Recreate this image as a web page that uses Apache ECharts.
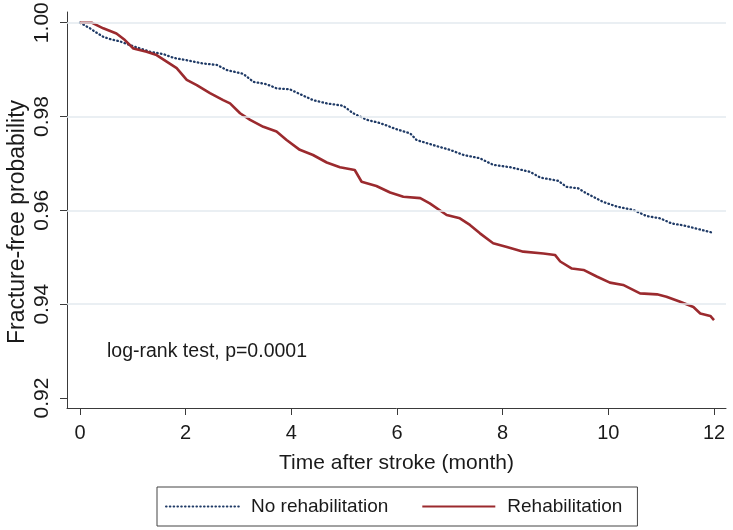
<!DOCTYPE html>
<html>
<head>
<meta charset="utf-8">
<script src="https://cdn.jsdelivr.net/npm/echarts@6/dist/echarts.min.js"></script>
<style>
html,body{margin:0;padding:0;background:#fff;}
#chart{width:733px;height:530px;}
</style>
</head>
<body>
<div id="chart"></div>
<script>
// ---- data ----
const noRehabTime = [0,0.19,0.28,0.44,0.57,0.76,0.95,1.14,1.33,1.58,1.77,2.02,2.33,2.59,2.78,3.09,3.28,3.53,3.72,3.97,4.16,4.41,4.67,4.98,5.17,5.43,5.68,5.99,6.25,6.37,6.69,7.00,7.26,7.57,7.82,8.14,8.52,8.71,9.05,9.21,9.43,9.59,9.90,10.16,10.47,10.72,10.98,11.20,11.42,11.67,11.99];
const noRehabSurv = [1.000,0.9988,0.9981,0.9970,0.9965,0.9960,0.9952,0.9945,0.9938,0.9933,0.9925,0.9920,0.9913,0.9910,0.9899,0.9891,0.9874,0.9869,0.9860,0.9858,0.9848,0.9835,0.9828,0.9823,0.9807,0.9793,0.9786,0.9773,0.9764,0.9750,0.9739,0.9729,0.9718,0.9711,0.9697,0.9692,0.9682,0.9670,0.9663,0.9650,0.9647,0.9636,0.9618,0.9608,0.9601,0.9588,0.9583,0.9572,0.9568,0.9561,0.9552];
const rehabTime = [0,0.22,0.44,0.69,0.85,1.01,1.26,1.45,1.64,1.83,2.02,2.21,2.46,2.71,2.84,3.03,3.22,3.47,3.72,3.91,4.16,4.41,4.67,4.92,5.20,5.33,5.61,5.87,6.12,6.44,6.62,6.94,7.19,7.38,7.57,7.82,8.08,8.39,8.77,8.99,9.09,9.31,9.53,9.78,10.03,10.28,10.60,10.92,11.10,11.36,11.61,11.74,11.93,12.00];
const rehabSurv = [1.000,1.000,0.9988,0.9977,0.9963,0.9945,0.9938,0.9931,0.9917,0.9903,0.9878,0.9867,0.9850,0.9835,0.9828,0.9807,0.9793,0.9778,0.9768,0.9750,0.9729,0.9718,0.9702,0.9692,0.9686,0.9661,0.9652,0.9638,0.9629,0.9626,0.9615,0.9590,0.9583,0.9569,0.9551,0.9530,0.9522,0.9512,0.9508,0.9505,0.9491,0.9476,0.9473,0.9459,0.9446,0.9441,0.9423,0.9421,0.9416,0.9405,0.9394,0.9380,0.9375,0.9366];
const xTicks = [0,2,4,6,8,10,12];
const yTicks = [0.92,0.94,0.96,0.98,1.00];
const yGrid = [0.94,0.96,0.98,1.00];
const seriesNames = ['No rehabilitation','Rehabilitation'];
const xTitle = 'Time after stroke (month)';
const yTitle = 'Fracture-free probability';
const note = 'log-rank test, p=0.0001';

const zip = (a,b) => a.map((v,i)=>[v,b[i]]);
const FONT = '"Liberation Sans", Arial, sans-serif';
const AX = '#3a3a3a';
const TXT = '#1a1a1a';

const chart = echarts.init(document.getElementById('chart'), null, {renderer:'canvas'});
chart.setOption({
  animation:false,
  backgroundColor:'#fff',
  textStyle:{fontFamily:FONT},
  title:{
    text:note, left:107, top:342, padding:0,
    textStyle:{fontSize:19.5, fontWeight:'normal', color:TXT, fontFamily:FONT}
  },
  grid:{left:67, right:7, top:12, bottom:122, containLabel:false, outerBoundsMode:'none'},
  legend:{
    data:seriesNames,
    left:157, top:487,
    padding:[10,15,10,8],
    borderColor:'#444', borderWidth:1,
    itemWidth:73, itemHeight:14, itemGap:33,
    itemStyle:{opacity:0},
    textStyle:{fontSize:19, color:TXT, fontFamily:FONT, padding:[0,0,0,7]}
  },
  xAxis:{
    type:'value', min:-0.246, max:12.227,
    axisLine:{show:true, onZero:false, lineStyle:{color:AX, width:1}},
    axisTick:{show:true, length:7, customValues:xTicks, lineStyle:{color:AX}},
    axisLabel:{customValues:xTicks, margin:15, fontSize:20, color:TXT, fontFamily:FONT},
    splitLine:{show:false},
    name:xTitle, nameLocation:'middle', nameGap:45, nameMoveOverlap:false,
    nameTextStyle:{fontSize:21, color:TXT, fontFamily:FONT}
  },
  yAxis:{
    type:'value', min:0.91787, max:1.00228,
    axisLine:{show:true, onZero:false, lineStyle:{color:AX, width:1}},
    axisTick:{show:true, length:7, customValues:yTicks, lineStyle:{color:AX}},
    axisLabel:{customValues:yTicks, rotate:90, margin:14, fontSize:21, color:TXT, fontFamily:FONT,
      formatter:v=>v.toFixed(2)},
    splitLine:{show:false},
    name:yTitle, nameLocation:'middle', nameGap:38, nameMoveOverlap:false,
    nameTextStyle:{fontSize:23, color:TXT, fontFamily:FONT, padding:[0,24,0,0]}
  },
  series:[
    {
      name:'grid', type:'line', data:[], z:1, silent:true,
      markLine:{
        silent:true, symbol:'none', animation:false,
        label:{show:false},
        lineStyle:{color:'#e3eaef', width:1.5, type:'solid'},
        data:yGrid.map(v=>({yAxis:v}))
      }
    },
    {
      name:seriesNames[0], type:'line', data:zip(noRehabTime,noRehabSurv),
      symbol:'none', z:3,
      lineStyle:{color:'#1f3a66', width:2.3, type:[0.6,3.2], cap:'round'},
      itemStyle:{color:'#1f3a66'}
    },
    {
      name:seriesNames[1], type:'line', data:zip(rehabTime,rehabSurv),
      symbol:'none', z:4,
      lineStyle:{color:'#9b2a2e', width:2.6},
      itemStyle:{color:'#9b2a2e'}
    }
  ]
});
</script>
</body>
</html>
